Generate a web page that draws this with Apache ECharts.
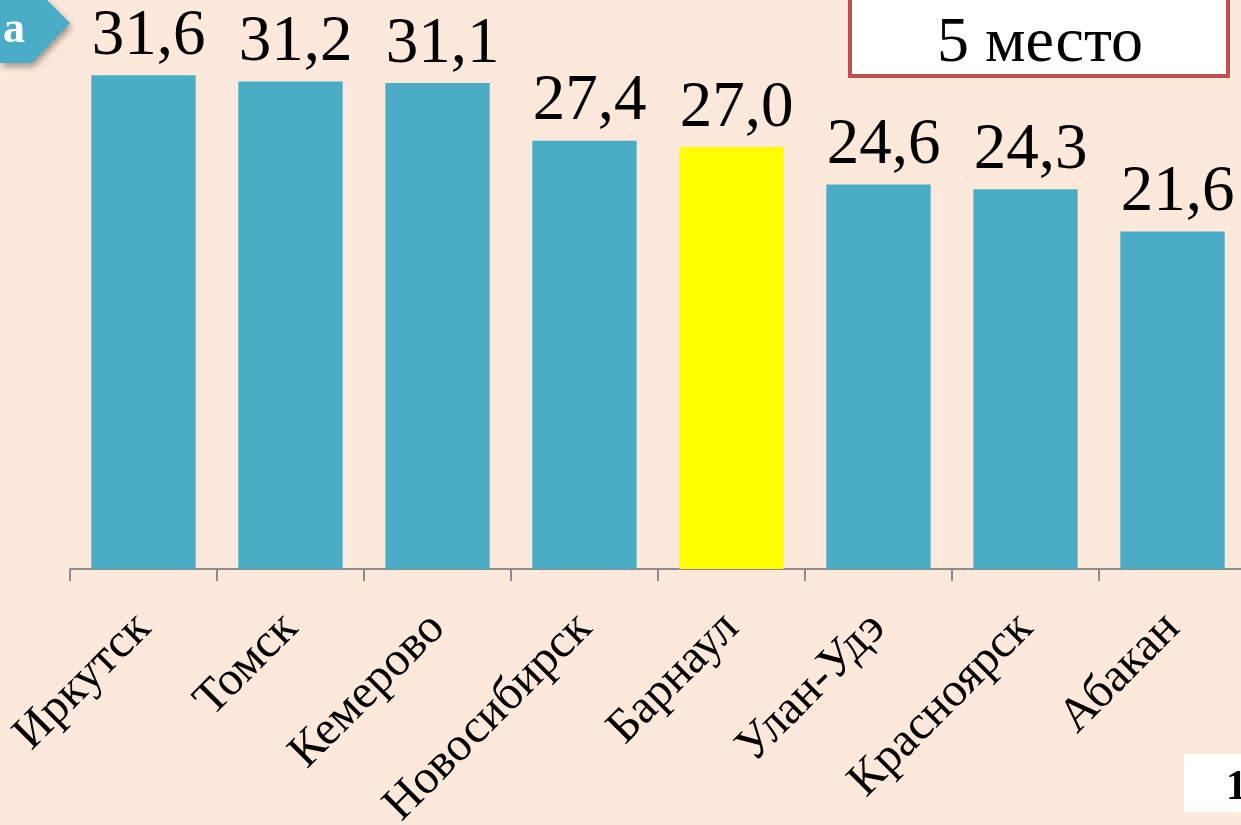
<!DOCTYPE html>
<html>
<head>
<meta charset="utf-8">
<script src="https://cdn.jsdelivr.net/npm/echarts@6/dist/echarts.min.js"></script>
<style>
  html, body { margin: 0; padding: 0; background: #FCE9DB; }
  #main { width: 1241px; height: 825px; }
</style>
</head>
<body>
<div id="main"></div>
<script>
// города и доля (%)
var cities = ['Иркутск', 'Томск', 'Кемерово', 'Новосибирск', 'Барнаул', 'Улан-Удэ', 'Красноярск', 'Абакан'];
var values = [31.6, 31.2, 31.1, 27.4, 27.0, 24.6, 24.3, 21.6];
var highlight = 'Барнаул';
var placeText = '5 место';

var myChart = echarts.init(document.getElementById('main'));

var barData = [];
for (var i = 0; i < values.length; i++) {
    barData.push({
        value: values[i],
        itemStyle: { color: cities[i] === highlight ? '#FFFF00' : '#4BACC6' }
    });
}

var option = {
    backgroundColor: '#FCE9DB',
    animation: false,
    grid: { left: 70, top: 22, width: 1176, height: 547, containLabel: false, outerBoundsMode: 'none' },
    xAxis: {
        type: 'category',
        data: cities,
        axisLine: { lineStyle: { color: '#8C8C8C', width: 2 } },
        axisTick: { show: true, length: 12, lineStyle: { color: '#8C8C8C', width: 2 } },
        axisLabel: {
            rotate: 45,
            interval: 0,
            margin: 52,
            color: '#000',
            fontFamily: 'Liberation Serif',
            fontSize: 48
        }
    },
    yAxis: {
        type: 'value',
        min: 0,
        max: 35,
        show: false
    },
    series: [{
        type: 'bar',
        data: barData,
        barCategoryGap: '29%',
        label: {
            show: true,
            position: 'top',
            distance: 6,
            offset: [5, 0],
            color: '#000',
            fontFamily: 'Liberation Serif',
            fontSize: 65,
            formatter: function (p) { return p.value.toFixed(1).replace('.', ','); }
        }
    }],
    graphic: [
        {
            type: 'polygon',
            shape: { points: [[0, 0], [47, 0], [70, 23], [32, 63], [0, 63]] },
            style: { fill: '#4BACC6', shadowBlur: 6, shadowOffsetX: 2, shadowOffsetY: 4, shadowColor: 'rgba(0,0,0,0.35)' }
        },
        {
            type: 'text',
            x: 14, y: 31,
            style: { text: 'a', fill: '#fff', font: 'bold 44px "Liberation Serif"', align: 'center', verticalAlign: 'middle' }
        },
        {
            type: 'rect',
            shape: { x: 850, y: -10, width: 378, height: 86 },
            style: { fill: '#fff', stroke: '#C0504D', lineWidth: 4 }
        },
        {
            type: 'text',
            x: 1040, y: 44,
            style: { text: placeText, fill: '#000', font: '64px "Liberation Serif"', align: 'center', verticalAlign: 'middle' }
        },
        {
            type: 'rect',
            shape: { x: 1184, y: 754, width: 70, height: 58 },
            style: { fill: '#fff' }
        },
        {
            type: 'text',
            x: 1226, y: 788,
            style: { text: '1', fill: '#000', font: 'bold 42px "Liberation Serif"', verticalAlign: 'middle' }
        }
    ]
};

myChart.setOption(option);
</script>
</body>
</html>
